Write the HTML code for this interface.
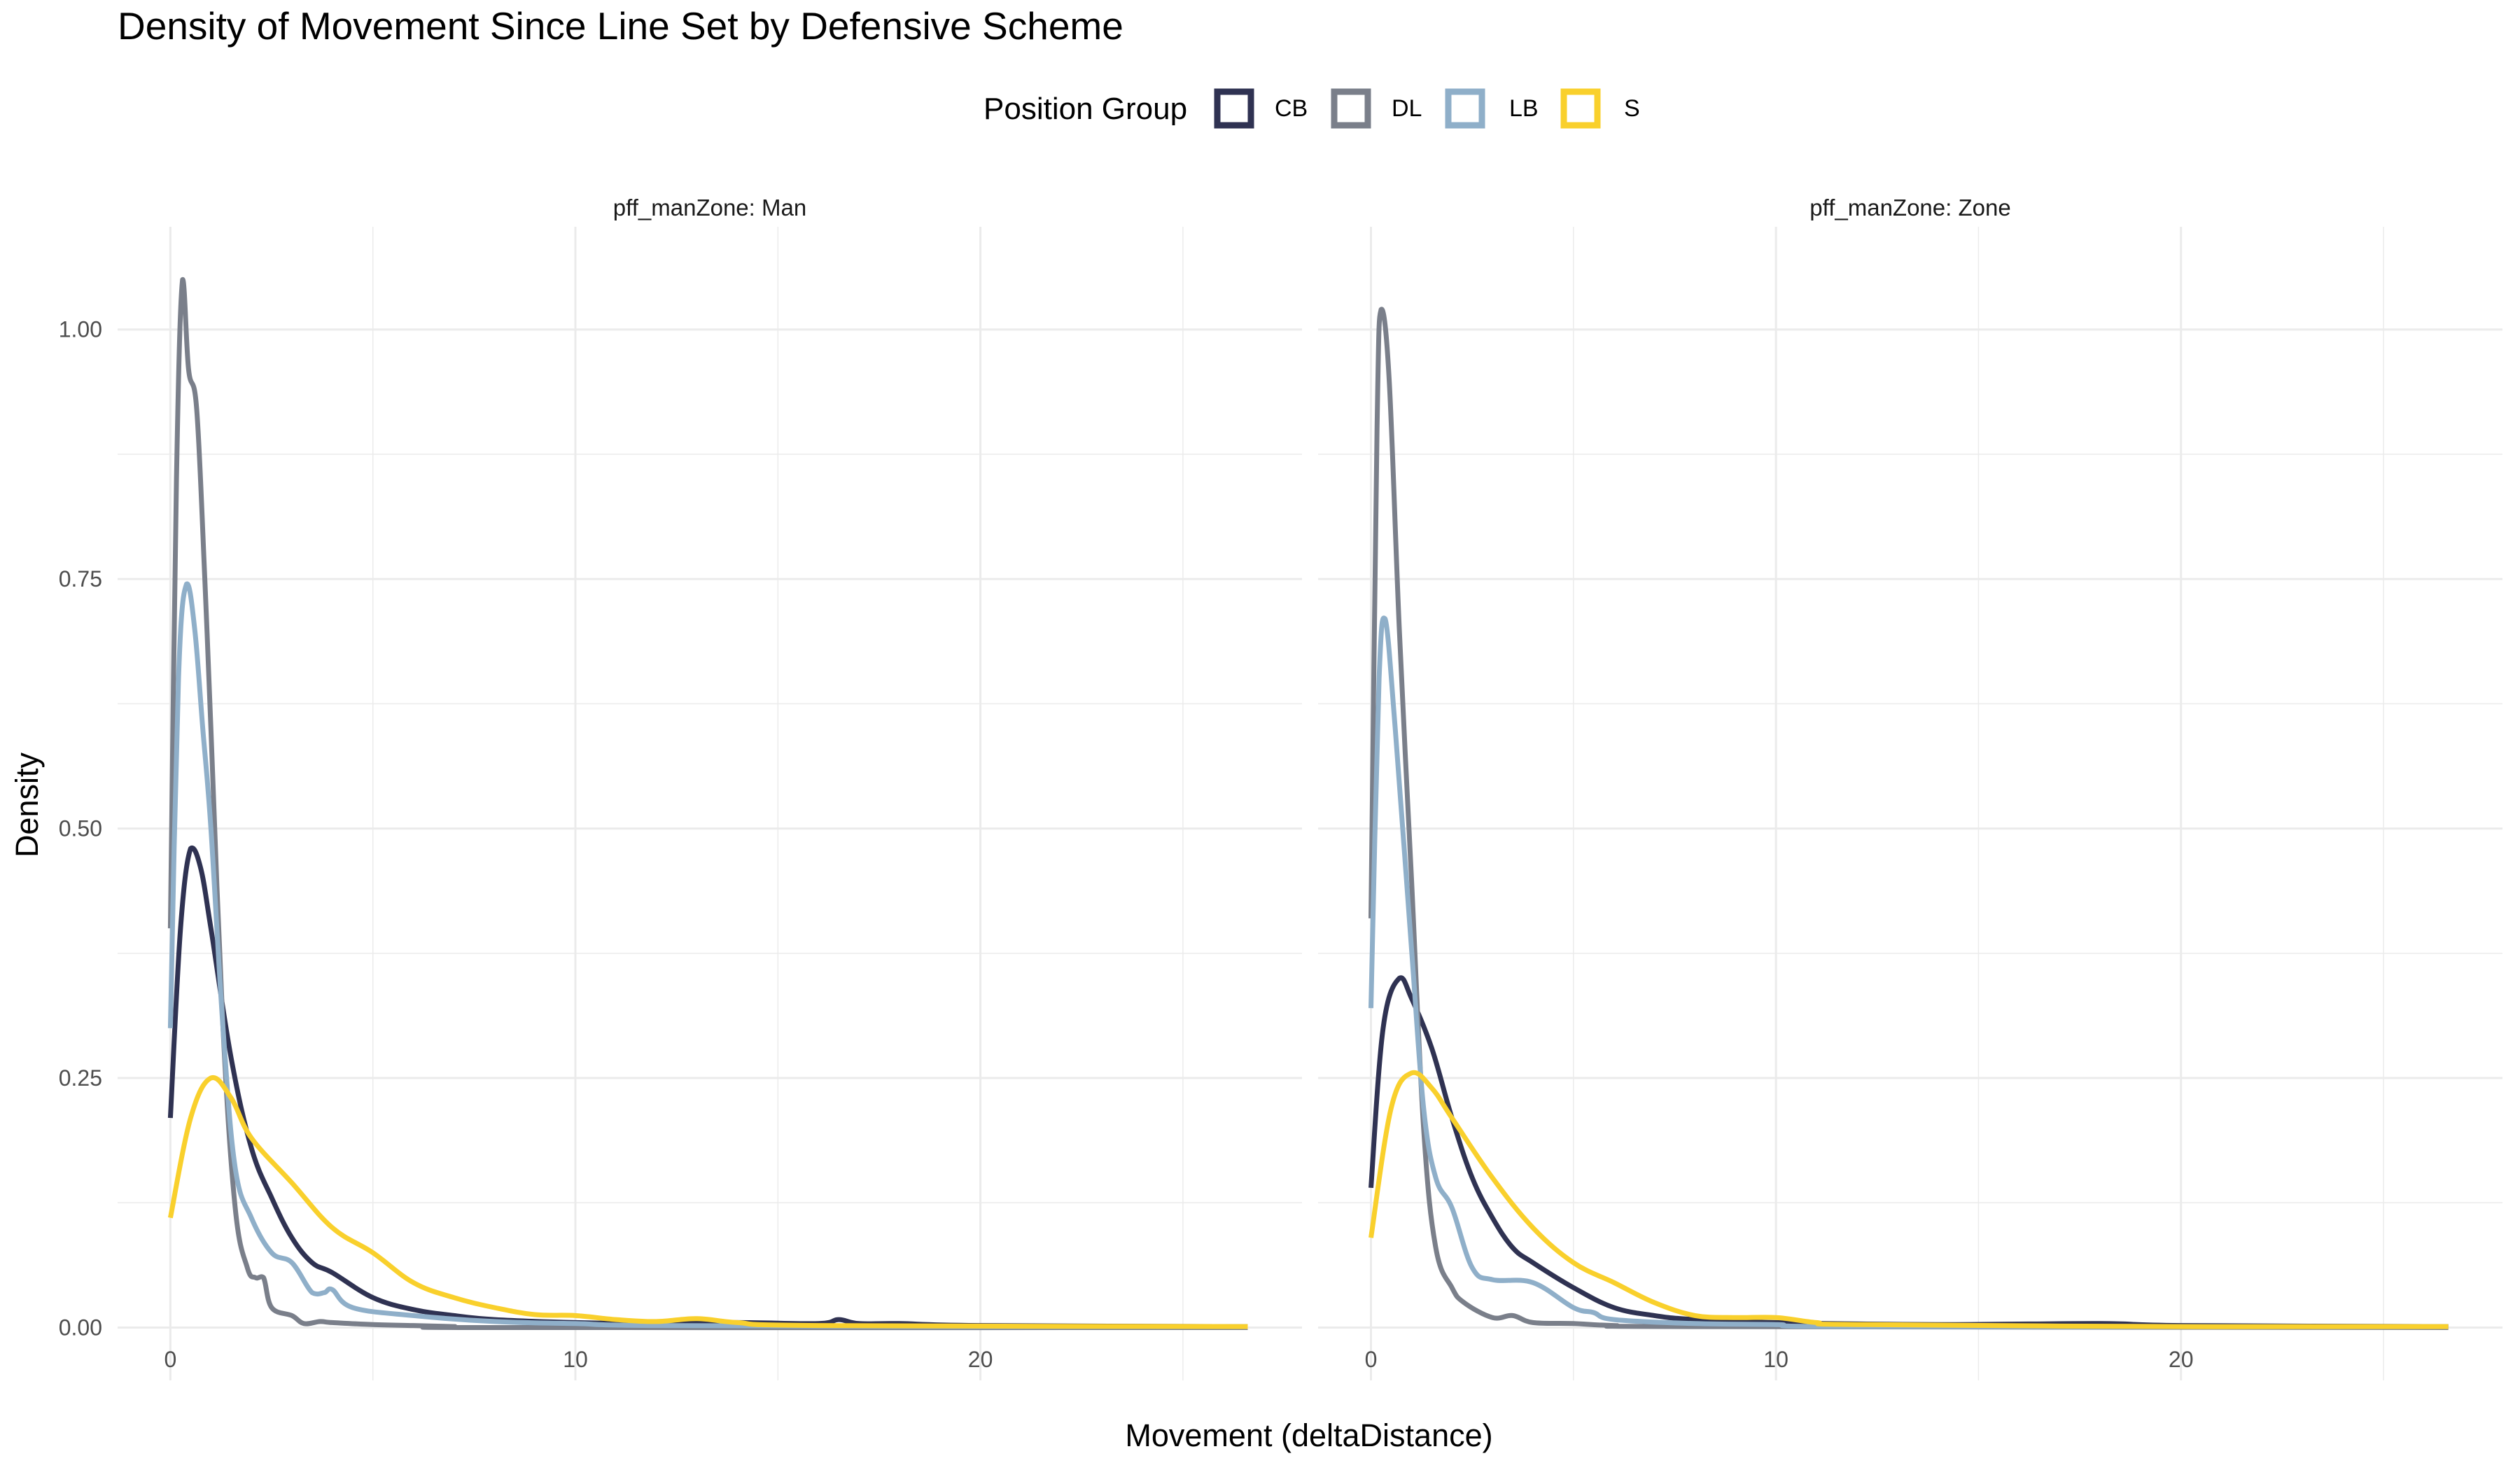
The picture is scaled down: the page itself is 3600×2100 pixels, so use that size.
<!DOCTYPE html>
<html><head><meta charset="utf-8"><style>
html,body{margin:0;padding:0;background:#fff;}
svg{display:block;font-family:"Liberation Sans",Arial,sans-serif;}
</style></head><body>
<svg id="chart" width="3600" height="2100" viewBox="0 0 3600 2100">
<text x="168" y="56" font-size="55" fill="#000">Density of Movement Since Line Set by Defensive Scheme</text>
<g>
<text x="1405" y="170" font-size="44" fill="#000">Position Group</text>
<g id="legendItems"></g>
</g>
<g id="panels"></g>
<text x="1870" y="2066" font-size="45" text-anchor="middle" fill="#000">Movement (deltaDistance)</text>
<text transform="translate(54,1150) rotate(-90)" font-size="45" text-anchor="middle" fill="#000">Density</text>
</svg>
<script>
const groups = ["CB","DL","LB","S"];
const colors = ["#2f3252","#7a7f8a","#8fafc9","#f9d02c"];
const panelNames = ["Man","Zone"];
const xTicks = [0,10,20];
const yTicks = [0,0.25,0.5,0.75,1];
const yTickLabels = ["0.00","0.25","0.50","0.75","1.00"];
// Man panel
const manCB = [[0,0.21],[0.25,0.40],[0.5,0.48],[0.75,0.46],[1,0.40],[1.5,0.27],[2,0.18],[2.5,0.13],[3,0.09],[3.5,0.065],[4,0.055],[5,0.03],[6,0.018],[7,0.012],[8,0.008],[10,0.005],[12,0.004],[14,0.005],[16,0.004],[16.5,0.008],[17,0.004],[18,0.004],[20,0.002],[26.6,0.001]];
const manDL = [[0,0.40],[0.15,0.85],[0.3,1.05],[0.45,0.96],[0.65,0.92],[0.85,0.75],[1,0.6],[1.3,0.3],[1.6,0.12],[1.9,0.06],[2.1,0.05],[2.3,0.05],[2.5,0.02],[3,0.012],[3.3,0.004],[3.7,0.006],[4,0.005],[5,0.003],[6,0.002],[7,0.001],[8,0],[26.6,0]];
const manLB = [[0,0.30],[0.2,0.65],[0.4,0.745],[0.6,0.70],[0.8,0.60],[1,0.50],[1.3,0.30],[1.6,0.16],[2,0.11],[2.5,0.075],[3,0.065],[3.5,0.035],[3.8,0.035],[4,0.038],[4.5,0.02],[6,0.012],[8,0.006],[10,0.004],[12,0.002],[20,0.001],[26.6,0.001]];
const manS = [[0,0.11],[0.5,0.21],[1,0.25],[1.5,0.23],[2,0.19],[3,0.145],[4,0.10],[5,0.075],[6,0.045],[7,0.03],[8,0.02],[9,0.013],[10,0.012],[11,0.008],[12,0.006],[13,0.009],[14,0.005],[16,0.002],[26.6,0.001]];
// Zone panel
const zoneCB = [[0,0.14],[0.3,0.30],[0.7,0.35],[1,0.33],[1.5,0.28],[2,0.21],[2.5,0.15],[3,0.11],[3.5,0.08],[4,0.065],[5,0.04],[6,0.02],[7,0.012],[8,0.008],[10,0.005],[14,0.003],[18,0.004],[20,0.002],[26.6,0.001]];
const zoneDL = [[0,0.41],[0.15,0.9],[0.25,1.02],[0.45,0.95],[0.7,0.70],[1,0.45],[1.3,0.20],[1.6,0.08],[2,0.04],[2.3,0.025],[3,0.01],[3.5,0.012],[4,0.005],[5,0.004],[6,0.002],[8,0.001],[26.6,0]];
const zoneLB = [[0,0.32],[0.2,0.65],[0.35,0.71],[0.6,0.60],[1,0.38],[1.3,0.22],[1.6,0.15],[2,0.12],[2.5,0.06],[3,0.048],[4,0.045],[5,0.02],[5.5,0.015],[6,0.008],[8,0.004],[10,0.003],[12,0.001],[26.6,0.001]];
const zoneS = [[0,0.09],[0.5,0.22],[1,0.255],[1.5,0.24],[2,0.21],[3,0.15],[4,0.10],[5,0.065],[6,0.045],[7,0.025],[8,0.012],[9,0.01],[10,0.01],[11,0.005],[12,0.003],[20,0.001],[26.6,0.001]];
const panelSeries = [[manCB,manDL,manLB,manS],[zoneCB,zoneDL,zoneLB,zoneS]];

const NS="http://www.w3.org/2000/svg";
function mk(tag,attrs,parent){const e=document.createElementNS(NS,tag);for(const k in attrs)e.setAttribute(k,attrs[k]);parent.appendChild(e);return e;}
const panelLeft=[168,1883], panelW=1692, zeroPx=[243.4,1958.5], pxPerUnit=57.86;
const yZero=1896.5, pxPerDensity=1425.8, panelTop=324, panelBot=1972;
function yS(v){return yZero - v*pxPerDensity;}
function smoothPath(pts){
  let d='M'+pts[0][0].toFixed(1)+','+pts[0][1].toFixed(1);
  for(let i=0;i<pts.length-1;i++){
    const p0=pts[Math.max(0,i-1)],p1=pts[i],p2=pts[i+1],p3=pts[Math.min(pts.length-1,i+2)];
    const t=0.18;
    let c1x=p1[0]+(p2[0]-p0[0])*t, c1y=p1[1]+(p2[1]-p0[1])*t;
    let c2x=p2[0]-(p3[0]-p1[0])*t, c2y=p2[1]-(p3[1]-p1[1])*t;
    const lo=Math.min(p1[1],p2[1])-4, hi=Math.max(p1[1],p2[1])+4;
    c1y=Math.max(lo,Math.min(hi,c1y)); c2y=Math.max(lo,Math.min(hi,c2y));
    d+=' C'+c1x.toFixed(1)+','+c1y.toFixed(1)+' '+c2x.toFixed(1)+','+c2y.toFixed(1)+' '+p2[0].toFixed(1)+','+p2[1].toFixed(1);
  }
  return d;
}
const panels=document.getElementById('panels');
panelNames.forEach((pn,pi)=>{
  const xS=v=>zeroPx[pi]+v*pxPerUnit;
  const g=mk('g',{},panels);
  
  
  const L=panelLeft[pi],R=L+panelW;
  for(let v=5;v<28;v+=10){const l=mk('line',{x1:xS(v),x2:xS(v),y1:panelTop,y2:panelBot,stroke:'#ebebeb','stroke-width':1.5},g);}
  for(let v=0.125;v<1.1;v+=0.25){const l=mk('line',{x1:L,x2:R,y1:yS(v),y2:yS(v),stroke:'#ebebeb','stroke-width':1.5},g);}
  xTicks.forEach(v=>{const l=mk('line',{x1:xS(v),x2:xS(v),y1:panelTop,y2:panelBot,stroke:'#ebebeb','stroke-width':3},g);
    const t=mk('text',{x:xS(v),y:1953,'font-size':32,'text-anchor':'middle',fill:'#4d4d4d'},g);t.textContent=v;});
  yTicks.forEach((v,i)=>{const l=mk('line',{x1:L,x2:R,y1:yS(v),y2:yS(v),stroke:'#ebebeb','stroke-width':3},g);
    if(pi===0){const t=mk('text',{x:146,y:yS(v)+11,'font-size':32,'text-anchor':'end',fill:'#4d4d4d'},g);t.textContent=yTickLabels[i];}});
  const st=mk('text',{x:L+panelW/2,y:308,'font-size':33,'text-anchor':'middle',fill:'#1a1a1a'},g);st.textContent='pff_manZone: '+pn;
  
  panelSeries[pi].forEach((s,si)=>{
    const pts=s.map(p=>[xS(p[0]),yS(p[1])]);
    const p=mk('path',{d:smoothPath(pts),fill:'none',stroke:colors[si],'stroke-width':7,'stroke-linejoin':'round'},g);
    
    
  });
});
const li=document.getElementById('legendItems');
const keyX=[1734,1901,2064,2229], labX=[1821,1988,2156,2320];
groups.forEach((gname,i)=>{
  const r=mk('rect',{x:keyX[i]+5,y:131,width:48,height:48,fill:'#fff',stroke:colors[i],'stroke-width':9},li);
  
  
  const t=mk('text',{x:labX[i],y:166,'font-size':34,fill:'#000'},li);t.textContent=gname;
  
  
});
</script>
</body></html>
